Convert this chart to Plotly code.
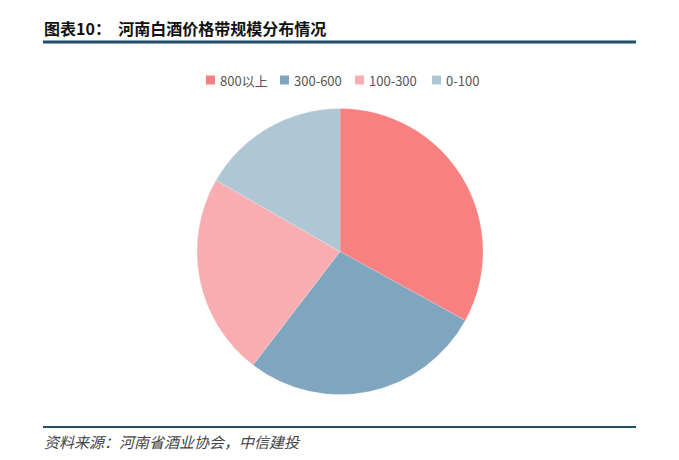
import plotly.graph_objects as go

# page body adds an 8px margin; the figure is sized so it fits the 679x460 window
OFF = 8
W, H = 679 - OFF, 460 - OFF

labels = ["800以上", "300-600", "100-300", "0-100"]
values = [33.0, 27.4, 22.9, 16.7]
colors = ["#F98080", "#7FA5BF", "#F8AEB0", "#AFC6D5"]

# legend item left edges (screen px), layout only
legend_x = [206, 280, 355, 432]

def px(x): return (x - OFF) / W
def py(y): return 1 - (y - OFF) / H

fig = go.Figure(go.Pie(
    labels=labels, values=values, sort=False, direction="clockwise", rotation=0,
    marker=dict(colors=colors, line=dict(color="rgba(255,255,255,0.35)", width=0.5)),
    textinfo="none", hoverinfo="label+percent", showlegend=False,
    domain=dict(x=[px(197), px(483)], y=[py(395), py(108)]),
))

shapes = [
    dict(type="line", xref="paper", yref="paper", x0=px(43), x1=px(636), y0=py(42), y1=py(42),
         line=dict(color="#1D4E6B", width=3)),
    dict(type="line", xref="paper", yref="paper", x0=px(43), x1=px(636), y0=py(427), y1=py(427),
         line=dict(color="#1D4E6B", width=2)),
]
annotations = [
    dict(text="<b>图表10：  河南白酒价格带规模分布情况</b>", xref="paper", yref="paper",
         x=px(42), y=py(28), xanchor="left", yanchor="middle", showarrow=False,
         font=dict(size=16, color="#111111", family="Noto Sans CJK SC")),
    dict(text="<i>资料来源：河南省酒业协会，中信建投</i>", xref="paper", yref="paper",
         x=px(42), y=py(441), xanchor="left", yanchor="middle", showarrow=False,
         font=dict(size=15, color="#444444", family="Noto Sans CJK SC")),
]
for lab, col, lx in zip(labels, colors, legend_x):
    shapes.append(dict(type="rect", xref="paper", yref="paper",
                       x0=px(lx), x1=px(lx + 9), y0=py(84.5), y1=py(75.5),
                       fillcolor=col, line=dict(width=0)))
    annotations.append(dict(text=lab, xref="paper", yref="paper", x=px(lx + 12), y=py(80),
                            xanchor="left", yanchor="middle", showarrow=False,
                            font=dict(size=13, color="#555555", family="Noto Sans CJK SC")))

fig.update_layout(
    width=W, height=H, margin=dict(l=0, r=0, t=0, b=0),
    paper_bgcolor="white", plot_bgcolor="white",
    font=dict(family="Noto Sans CJK SC", color="#595959"),
    shapes=shapes, annotations=annotations,
)

fig.write_html("out.html")
